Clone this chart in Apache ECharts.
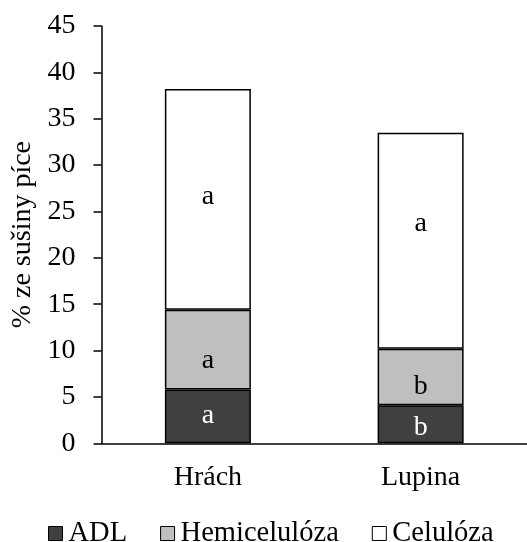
<!DOCTYPE html>
<html>
<head>
<meta charset="utf-8">
<script src="https://cdn.jsdelivr.net/npm/echarts@6/dist/echarts.min.js"></script>
<style>html,body{margin:0;padding:0;background:#fff}#c{width:527px;height:542px}</style>
</head>
<body>
<div id="c"></div>
<script>
const categories = ['Hrách', 'Lupina'];
const seriesNames = ['ADL', 'Hemicelulóza', 'Celulóza'];
const adl = [5.8, 4.1];
const hemicelulosa = [8.6, 6.1];
const celulosa = [23.8, 23.3];
const adlLetters = ['a', 'b'];
const hemiLetters = ['a', 'b'];
const celLetters = ['a', 'a'];
const yTicks = { min: 0, max: 45, interval: 5 };

// styling (not data)
const FONT = 'Liberation Serif';
const colors = ['#404040', '#bfbfbf', '#ffffff'];
const labelColors = ['#ffffff', '#000000', '#000000'];
const labelNudge = [[-1, 3], [11, 10], [-3, -17]];

const values = [adl, hemicelulosa, celulosa];
const letters = [adlLetters, hemiLetters, celLetters];

const series = seriesNames.map((name, si) => ({
  name,
  type: 'bar',
  stack: 'total',
  barWidth: 86,
  itemStyle: { color: colors[si], borderColor: '#000', borderWidth: 1.5 },
  data: values[si].map((v, ci) => ({
    value: v,
    label: {
      show: true,
      position: 'inside',
      offset: [0, labelNudge[si][ci]],
      formatter: letters[si][ci],
      color: labelColors[si],
      fontFamily: FONT,
      fontSize: 28
    }
  }))
}));

const chart = echarts.init(document.getElementById('c'), null, { renderer: 'canvas' });
chart.setOption({
  animation: false,
  backgroundColor: '#fff',
  textStyle: { fontFamily: FONT },
  grid: { left: 101.5, right: -6, top: 26, bottom: 98.7 },
  legend: {
    data: seriesNames.map(n => ({ name: n, itemStyle: { borderColor: '#000', borderWidth: 1 } })),
    left: 48,
    top: 519,
    padding: 0,
    icon: 'rect',
    itemWidth: 14,
    itemHeight: 14,
    itemGap: 33,
    textStyle: { fontFamily: FONT, fontSize: 28.5, color: '#000', padding: [0, 0, 0, 1] }
  },
  xAxis: {
    type: 'category',
    data: categories,
    axisLine: { lineStyle: { color: '#000', width: 1.5 } },
    axisTick: { show: false },
    axisLabel: { color: '#000', fontFamily: FONT, fontSize: 28, margin: 20 }
  },
  yAxis: {
    type: 'value',
    min: yTicks.min,
    max: yTicks.max,
    interval: yTicks.interval,
    name: '% ze sušiny píce',
    nameLocation: 'middle',
    nameGap: 64,
    nameTextStyle: { color: '#000', fontFamily: FONT, fontSize: 28 },
    axisLine: { show: true, lineStyle: { color: '#000', width: 1.5 } },
    axisTick: { show: true, inside: false, length: 8, lineStyle: { color: '#000', width: 1.5 } },
    splitLine: { show: false },
    axisLabel: { color: '#000', fontFamily: FONT, fontSize: 28, margin: 26 }
  },
  series
});
</script>
</body>
</html>
